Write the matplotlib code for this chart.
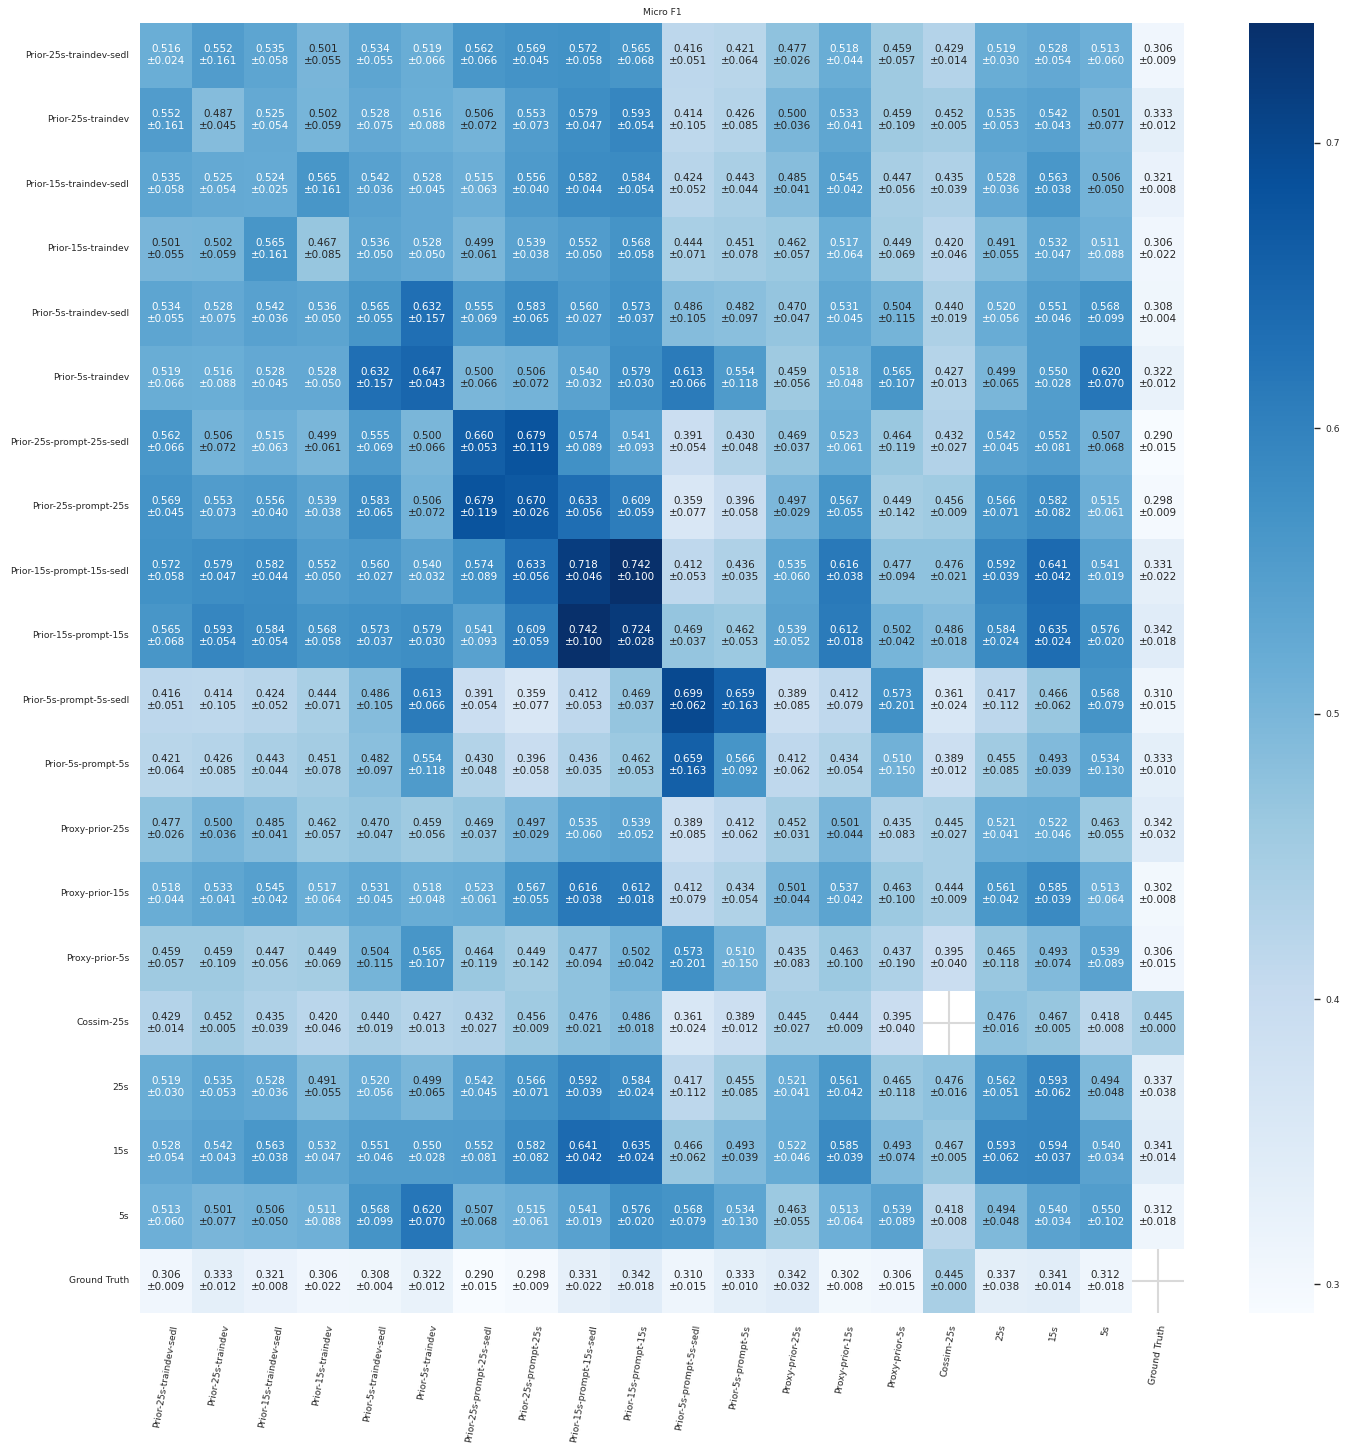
import numpy as np
import matplotlib
matplotlib.use("Agg")
import matplotlib.pyplot as plt
import seaborn as sns

labels = ["Prior-25s-traindev-sedl", "Prior-25s-traindev", "Prior-15s-traindev-sedl",
          "Prior-15s-traindev", "Prior-5s-traindev-sedl", "Prior-5s-traindev",
          "Prior-25s-prompt-25s-sedl", "Prior-25s-prompt-25s", "Prior-15s-prompt-15s-sedl",
          "Prior-15s-prompt-15s", "Prior-5s-prompt-5s-sedl", "Prior-5s-prompt-5s",
          "Proxy-prior-25s", "Proxy-prior-15s", "Proxy-prior-5s", "Cossim-25s",
          "25s", "15s", "5s", "Ground Truth"]

nan = np.nan
mean = [
    [0.516, 0.552, 0.535, 0.501, 0.534, 0.519, 0.562, 0.569, 0.572, 0.565, 0.416, 0.421, 0.477, 0.518, 0.459, 0.429, 0.519, 0.528, 0.513, 0.306],
    [0.552, 0.487, 0.525, 0.502, 0.528, 0.516, 0.506, 0.553, 0.579, 0.593, 0.414, 0.426, 0.500, 0.533, 0.459, 0.452, 0.535, 0.542, 0.501, 0.333],
    [0.535, 0.525, 0.524, 0.565, 0.542, 0.528, 0.515, 0.556, 0.582, 0.584, 0.424, 0.443, 0.485, 0.545, 0.447, 0.435, 0.528, 0.563, 0.506, 0.321],
    [0.501, 0.502, 0.565, 0.467, 0.536, 0.528, 0.499, 0.539, 0.552, 0.568, 0.444, 0.451, 0.462, 0.517, 0.449, 0.420, 0.491, 0.532, 0.511, 0.306],
    [0.534, 0.528, 0.542, 0.536, 0.565, 0.632, 0.555, 0.583, 0.560, 0.573, 0.486, 0.482, 0.470, 0.531, 0.504, 0.440, 0.520, 0.551, 0.568, 0.308],
    [0.519, 0.516, 0.528, 0.528, 0.632, 0.647, 0.500, 0.506, 0.540, 0.579, 0.613, 0.554, 0.459, 0.518, 0.565, 0.427, 0.499, 0.550, 0.620, 0.322],
    [0.562, 0.506, 0.515, 0.499, 0.555, 0.500, 0.660, 0.679, 0.574, 0.541, 0.391, 0.430, 0.469, 0.523, 0.464, 0.432, 0.542, 0.552, 0.507, 0.290],
    [0.569, 0.553, 0.556, 0.539, 0.583, 0.506, 0.679, 0.670, 0.633, 0.609, 0.359, 0.396, 0.497, 0.567, 0.449, 0.456, 0.566, 0.582, 0.515, 0.298],
    [0.572, 0.579, 0.582, 0.552, 0.560, 0.540, 0.574, 0.633, 0.718, 0.742, 0.412, 0.436, 0.535, 0.616, 0.477, 0.476, 0.592, 0.641, 0.541, 0.331],
    [0.565, 0.593, 0.584, 0.568, 0.573, 0.579, 0.541, 0.609, 0.742, 0.724, 0.469, 0.462, 0.539, 0.612, 0.502, 0.486, 0.584, 0.635, 0.576, 0.342],
    [0.416, 0.414, 0.424, 0.444, 0.486, 0.613, 0.391, 0.359, 0.412, 0.469, 0.699, 0.659, 0.389, 0.412, 0.573, 0.361, 0.417, 0.466, 0.568, 0.310],
    [0.421, 0.426, 0.443, 0.451, 0.482, 0.554, 0.430, 0.396, 0.436, 0.462, 0.659, 0.566, 0.412, 0.434, 0.510, 0.389, 0.455, 0.493, 0.534, 0.333],
    [0.477, 0.500, 0.485, 0.462, 0.470, 0.459, 0.469, 0.497, 0.535, 0.539, 0.389, 0.412, 0.452, 0.501, 0.435, 0.445, 0.521, 0.522, 0.463, 0.342],
    [0.518, 0.533, 0.545, 0.517, 0.531, 0.518, 0.523, 0.567, 0.616, 0.612, 0.412, 0.434, 0.501, 0.537, 0.463, 0.444, 0.561, 0.585, 0.513, 0.302],
    [0.459, 0.459, 0.447, 0.449, 0.504, 0.565, 0.464, 0.449, 0.477, 0.502, 0.573, 0.510, 0.435, 0.463, 0.437, 0.395, 0.465, 0.493, 0.539, 0.306],
    [0.429, 0.452, 0.435, 0.420, 0.440, 0.427, 0.432, 0.456, 0.476, 0.486, 0.361, 0.389, 0.445, 0.444, 0.395, nan, 0.476, 0.467, 0.418, 0.445],
    [0.519, 0.535, 0.528, 0.491, 0.520, 0.499, 0.542, 0.566, 0.592, 0.584, 0.417, 0.455, 0.521, 0.561, 0.465, 0.476, 0.562, 0.593, 0.494, 0.337],
    [0.528, 0.542, 0.563, 0.532, 0.551, 0.550, 0.552, 0.582, 0.641, 0.635, 0.466, 0.493, 0.522, 0.585, 0.493, 0.467, 0.593, 0.594, 0.540, 0.341],
    [0.513, 0.501, 0.506, 0.511, 0.568, 0.620, 0.507, 0.515, 0.541, 0.576, 0.568, 0.534, 0.463, 0.513, 0.539, 0.418, 0.494, 0.540, 0.550, 0.312],
    [0.306, 0.333, 0.321, 0.306, 0.308, 0.322, 0.290, 0.298, 0.331, 0.342, 0.310, 0.333, 0.342, 0.302, 0.306, 0.445, 0.337, 0.341, 0.312, nan],
]

std = [
    [0.024, 0.161, 0.058, 0.055, 0.055, 0.066, 0.066, 0.045, 0.058, 0.068, 0.051, 0.064, 0.026, 0.044, 0.057, 0.014, 0.030, 0.054, 0.060, 0.009],
    [0.161, 0.045, 0.054, 0.059, 0.075, 0.088, 0.072, 0.073, 0.047, 0.054, 0.105, 0.085, 0.036, 0.041, 0.109, 0.005, 0.053, 0.043, 0.077, 0.012],
    [0.058, 0.054, 0.025, 0.161, 0.036, 0.045, 0.063, 0.040, 0.044, 0.054, 0.052, 0.044, 0.041, 0.042, 0.056, 0.039, 0.036, 0.038, 0.050, 0.008],
    [0.055, 0.059, 0.161, 0.085, 0.050, 0.050, 0.061, 0.038, 0.050, 0.058, 0.071, 0.078, 0.057, 0.064, 0.069, 0.046, 0.055, 0.047, 0.088, 0.022],
    [0.055, 0.075, 0.036, 0.050, 0.055, 0.157, 0.069, 0.065, 0.027, 0.037, 0.105, 0.097, 0.047, 0.045, 0.115, 0.019, 0.056, 0.046, 0.099, 0.004],
    [0.066, 0.088, 0.045, 0.050, 0.157, 0.043, 0.066, 0.072, 0.032, 0.030, 0.066, 0.118, 0.056, 0.048, 0.107, 0.013, 0.065, 0.028, 0.070, 0.012],
    [0.066, 0.072, 0.063, 0.061, 0.069, 0.066, 0.053, 0.119, 0.089, 0.093, 0.054, 0.048, 0.037, 0.061, 0.119, 0.027, 0.045, 0.081, 0.068, 0.015],
    [0.045, 0.073, 0.040, 0.038, 0.065, 0.072, 0.119, 0.026, 0.056, 0.059, 0.077, 0.058, 0.029, 0.055, 0.142, 0.009, 0.071, 0.082, 0.061, 0.009],
    [0.058, 0.047, 0.044, 0.050, 0.027, 0.032, 0.089, 0.056, 0.046, 0.100, 0.053, 0.035, 0.060, 0.038, 0.094, 0.021, 0.039, 0.042, 0.019, 0.022],
    [0.068, 0.054, 0.054, 0.058, 0.037, 0.030, 0.093, 0.059, 0.100, 0.028, 0.037, 0.053, 0.052, 0.018, 0.042, 0.018, 0.024, 0.024, 0.020, 0.018],
    [0.051, 0.105, 0.052, 0.071, 0.105, 0.066, 0.054, 0.077, 0.053, 0.037, 0.062, 0.163, 0.085, 0.079, 0.201, 0.024, 0.112, 0.062, 0.079, 0.015],
    [0.064, 0.085, 0.044, 0.078, 0.097, 0.118, 0.048, 0.058, 0.035, 0.053, 0.163, 0.092, 0.062, 0.054, 0.150, 0.012, 0.085, 0.039, 0.130, 0.010],
    [0.026, 0.036, 0.041, 0.057, 0.047, 0.056, 0.037, 0.029, 0.060, 0.052, 0.085, 0.062, 0.031, 0.044, 0.083, 0.027, 0.041, 0.046, 0.055, 0.032],
    [0.044, 0.041, 0.042, 0.064, 0.045, 0.048, 0.061, 0.055, 0.038, 0.018, 0.079, 0.054, 0.044, 0.042, 0.100, 0.009, 0.042, 0.039, 0.064, 0.008],
    [0.057, 0.109, 0.056, 0.069, 0.115, 0.107, 0.119, 0.142, 0.094, 0.042, 0.201, 0.150, 0.083, 0.100, 0.190, 0.040, 0.118, 0.074, 0.089, 0.015],
    [0.014, 0.005, 0.039, 0.046, 0.019, 0.013, 0.027, 0.009, 0.021, 0.018, 0.024, 0.012, 0.027, 0.009, 0.040, nan, 0.016, 0.005, 0.008, 0.000],
    [0.030, 0.053, 0.036, 0.055, 0.056, 0.065, 0.045, 0.071, 0.039, 0.024, 0.112, 0.085, 0.041, 0.042, 0.118, 0.016, 0.051, 0.062, 0.048, 0.038],
    [0.054, 0.043, 0.038, 0.047, 0.046, 0.028, 0.081, 0.082, 0.042, 0.024, 0.062, 0.039, 0.046, 0.039, 0.074, 0.005, 0.062, 0.037, 0.034, 0.014],
    [0.060, 0.077, 0.050, 0.088, 0.099, 0.070, 0.068, 0.061, 0.019, 0.020, 0.079, 0.130, 0.055, 0.064, 0.089, 0.008, 0.048, 0.034, 0.102, 0.018],
    [0.009, 0.012, 0.008, 0.022, 0.004, 0.012, 0.015, 0.009, 0.022, 0.018, 0.015, 0.010, 0.032, 0.008, 0.015, 0.000, 0.038, 0.014, 0.018, nan],
]

title = "Micro F1"

M = np.array(mean, dtype=float)
S = np.array(std, dtype=float)
annot = np.empty(M.shape, dtype=object)
for i in range(M.shape[0]):
    for j in range(M.shape[1]):
        annot[i, j] = "" if np.isnan(M[i, j]) else f"{M[i, j]:.3f}\n±{S[i, j]:.3f}"

sns.set_theme(style="whitegrid")
plt.rcParams['font.family'] = ['DejaVu Sans']

fig = plt.figure(figsize=(13.55, 14.46), dpi=100)
ax = fig.add_axes([140/1355, 133/1446, 1044/1355, 1290/1446])
cax = fig.add_axes([1249/1355, 133/1446, 65/1355, 1290/1446])

sns.heatmap(M, ax=ax, cbar_ax=cax, cmap="Blues", annot=annot, fmt="",
            annot_kws={"fontsize": 7.5}, xticklabels=labels, yticklabels=labels)
ax.set_axisbelow(True)
ax.grid(True, color=".85", linewidth=1.5)
ax.set_title(title, fontsize=6.6, pad=6)
ax.set_xticklabels(labels, rotation=80, fontsize=6.6)
ax.set_yticklabels(labels, rotation=0, fontsize=6.6)
ax.tick_params(axis="both", length=0, pad=8)
cax.tick_params(labelsize=6.6, length=4.5, width=1)
cax.set_yticks([0.3, 0.4, 0.5, 0.6, 0.7])

fig.savefig("out.png", dpi=100)
